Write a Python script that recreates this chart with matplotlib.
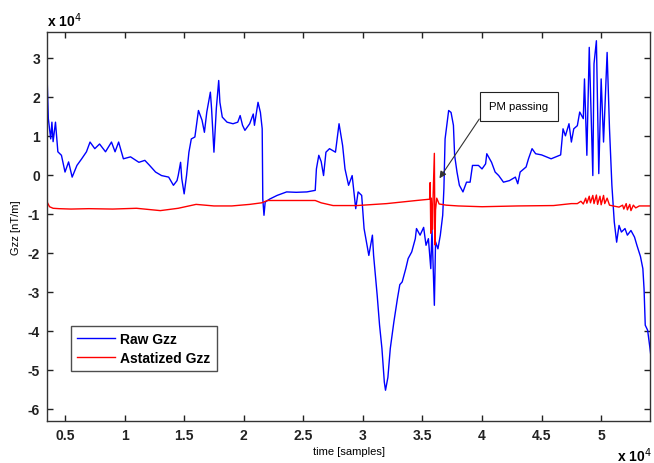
import numpy as np
import matplotlib
matplotlib.use('Agg')
import matplotlib.pyplot as plt

# values, in units of 1e4 (samples / nT/m)
raw_t = [0.35, 0.36, 0.38, 0.39, 0.40, 0.42, 0.44, 0.47, 0.50, 0.53, 0.56, 0.60, 0.64, 0.68,
         0.71, 0.75, 0.79, 0.84, 0.89, 0.92, 0.95, 0.99, 1.05, 1.12, 1.17, 1.21, 1.26, 1.31,
         1.37, 1.41, 1.44, 1.45, 1.47, 1.48, 1.50, 1.52, 1.54, 1.56, 1.59, 1.62, 1.65, 1.67,
         1.69, 1.72, 1.73, 1.75, 1.77, 1.79, 1.80, 1.82, 1.86, 1.91, 1.95, 1.97, 1.99, 2.01,
         2.05, 2.08, 2.09, 2.12, 2.14, 2.155, 2.16, 2.17, 2.18, 2.22, 2.28, 2.36, 2.44, 2.53,
         2.60, 2.61, 2.63, 2.65, 2.67, 2.69, 2.72, 2.77, 2.80, 2.83, 2.85, 2.88, 2.91, 2.94,
         2.96, 2.99, 3.01, 3.02, 3.05, 3.08, 3.09, 3.12, 3.14, 3.16, 3.18, 3.19, 3.21, 3.23,
         3.26, 3.29, 3.31, 3.33, 3.36, 3.38, 3.41, 3.44, 3.45, 3.48, 3.51, 3.53, 3.55, 3.57,
         3.58, 3.60, 3.61, 3.63, 3.65, 3.67, 3.68, 3.69, 3.72, 3.74, 3.76, 3.77, 3.79, 3.81,
         3.84, 3.87, 3.90, 3.92, 3.97, 4.00, 4.03, 4.04, 4.08, 4.11, 4.14, 4.18, 4.23, 4.28,
         4.30, 4.32, 4.37, 4.39, 4.42, 4.45, 4.50, 4.58, 4.66, 4.68, 4.70, 4.73, 4.75, 4.77,
         4.80, 4.82, 4.85, 4.86, 4.88, 4.90, 4.93, 4.94, 4.96, 4.98, 5.00, 5.02, 5.05, 5.07,
         5.09, 5.11, 5.13, 5.15, 5.17, 5.20, 5.22, 5.25, 5.28, 5.30, 5.33, 5.35, 5.36, 5.37,
         5.39, 5.41, 5.43]
raw_gzz = [2.46, 1.44, 0.92, 1.35, 0.85, 1.35, 0.59, 0.50, 0.07, 0.33, -0.06, 0.24, 0.41, 0.59,
           0.84, 0.67, 0.79, 0.59, 0.84, 0.59, 0.84, 0.41, 0.46, 0.32, 0.37, 0.24, 0.07, -0.02,
           -0.06, -0.27, -0.15, -0.02, 0.32, -0.10, -0.49, -0.02, 0.58, 0.92, 0.97, 1.65, 1.40, 1.09,
           1.61, 2.12, 1.70, 0.58, 1.70, 2.42, 1.86, 1.48, 1.35, 1.31, 1.35, 1.52, 1.27, 1.14,
           1.31, 1.56, 1.27, 1.86, 1.60, 1.18, -0.62, -1.04, -0.70, -0.62, -0.53, -0.44, -0.45, -0.44,
           -0.40, 0.15, 0.50, 0.34, -0.02, 0.58, 0.67, 0.58, 1.31, 0.75, 0.15, -0.27, -0.02, -0.87,
           -0.44, -0.53, -1.38, -1.55, -2.07, -1.55, -2.07, -3.09, -3.86, -4.46, -5.32, -5.53, -5.20, -4.46,
           -3.78, -3.18, -2.82, -2.75, -2.41, -2.15, -1.98, -1.64, -1.38, -1.55, -1.35, -1.81, -1.64, -2.41,
           -1.38, -3.35, -1.72, -1.90, -1.55, -1.04, -0.36, 0.92, 1.65, 1.60, 1.27, 0.50, 0.07, -0.27,
           -0.44, -0.19, -0.19, 0.24, 0.24, 0.15, 0.28, 0.54, 0.32, 0.07, -0.02, -0.19, -0.15, -0.06,
           -0.23, 0.07, 0.20, 0.41, 0.67, 0.54, 0.51, 0.41, 0.51, 1.18, 1.00, 1.31, 0.84, 1.18,
           1.26, 1.61, 1.44, 2.46, 0.50, 3.27, -0.02, 2.85, 3.44, 0.03, 2.46, 0.84, 3.14, 1.18,
           -0.27, -1.21, -1.73, -1.30, -1.47, -1.38, -1.55, -1.43, -1.60, -1.81, -2.10, -2.41, -2.93, -3.86,
           -3.99, -4.46, -4.97]

ast_t = [0.35, 0.37, 0.40, 0.45, 0.55, 0.70, 0.90, 1.10, 1.30, 1.45, 1.60, 1.75, 1.90, 2.05,
         2.15, 2.20, 2.40, 2.60, 2.65, 2.75, 2.95, 3.20, 3.45, 3.55, 3.56, 3.565, 3.57, 3.575,
         3.585, 3.59, 3.60, 3.605, 3.61, 3.62, 3.64, 3.70, 3.80, 4.00, 4.30, 4.60, 4.75, 4.80,
         4.83, 4.85, 4.87, 4.88, 4.90, 4.91, 4.93, 4.94, 4.96, 4.97, 4.99, 5.00, 5.02, 5.03,
         5.05, 5.07, 5.10, 5.15, 5.18, 5.19, 5.21, 5.22, 5.24, 5.25, 5.27, 5.29, 5.32, 5.43]
ast_gzz = [-0.70, -0.82, -0.86, -0.87, -0.88, -0.87, -0.88, -0.86, -0.92, -0.86, -0.76, -0.80, -0.80, -0.76,
           -0.72, -0.66, -0.66, -0.66, -0.72, -0.79, -0.79, -0.74, -0.66, -0.63, -0.63, -0.20, -1.50, -0.60,
           -1.40, -0.50, 0.55, -1.80, -0.90, -0.60, -0.75, -0.78, -0.80, -0.82, -0.80, -0.79, -0.74, -0.74,
           -0.68, -0.75, -0.60, -0.73, -0.55, -0.72, -0.53, -0.74, -0.52, -0.76, -0.55, -0.77, -0.53, -0.74,
           -0.60, -0.78, -0.80, -0.83, -0.78, -0.88, -0.74, -0.90, -0.76, -0.92, -0.78, -0.85, -0.80, -0.80]

x_ticks = [0.5, 1, 1.5, 2, 2.5, 3, 3.5, 4, 4.5, 5]
y_ticks = [-6, -5, -4, -3, -2, -1, 0, 1, 2, 3]

plt.rcParams['font.family'] = ['Liberation Sans', 'DejaVu Sans']

fig = plt.figure(figsize=(6.54, 4.64), dpi=100)
ax = fig.add_axes([0.0719, 0.0905, 0.922, 0.838])

ax.plot(raw_t, raw_gzz, color='#0000ff', lw=1.0, label='Raw Gzz')
ax.plot(ast_t, ast_gzz, color='#ff0000', lw=1.0, label='Astatized Gzz')

ax.set_xlim(0.349, 5.41)
ax.set_ylim(-6.32, 3.66)
ax.set_xticks(x_ticks)
ax.set_xticklabels([('%g' % v) for v in x_ticks])
ax.set_yticks(y_ticks)
ax.set_yticklabels([('%g' % v) for v in y_ticks])
ax.tick_params(direction='in', length=4, width=1, top=True, right=True,
               labelsize=10, pad=5, colors='#222222')
for lab in ax.get_xticklabels() + ax.get_yticklabels():
    lab.set_fontweight('bold')
for s in ax.spines.values():
    s.set_linewidth(1.0)
    s.set_color('#333333')

ax.set_xlabel('time [samples]', fontsize=8, labelpad=3)
ax.set_ylabel('Gzz [nT/m]', fontsize=8, labelpad=5)

# exponent labels like MATLAB
fig.text(47 / 654, 1 - 27 / 464, r'x 10$^{4}$', fontsize=10, fontweight='bold', ha='left', va='baseline')
fig.text(652 / 654, 1 - 462 / 464, r'x 10$^{4}$', fontsize=10, fontweight='bold', ha='right', va='baseline')

leg = ax.legend(loc='upper left', bbox_to_anchor=(24 / 603, 1 - (327 - 33) / 389),
                frameon=True, fancybox=False, edgecolor='#222222',
                prop={'weight': 'bold', 'size': 10}, handlelength=2.7, handletextpad=0.4,
                borderpad=0.45, labelspacing=0.35, borderaxespad=0)
leg.get_frame().set_linewidth(1.0)

# PM passing annotation
ax.text(4.31, 1.76, 'PM passing', fontsize=8.2, ha='center', va='center',
        bbox=dict(boxstyle='square,pad=0.85', fc='white', ec='#222222', lw=0.8))
ax.annotate('', xy=(3.63, -0.15), xytext=(3.99, 1.49),
            arrowprops=dict(arrowstyle='-|>', color='#333333', lw=0.8, mutation_scale=10))

fig.savefig('out.png', dpi=100)
